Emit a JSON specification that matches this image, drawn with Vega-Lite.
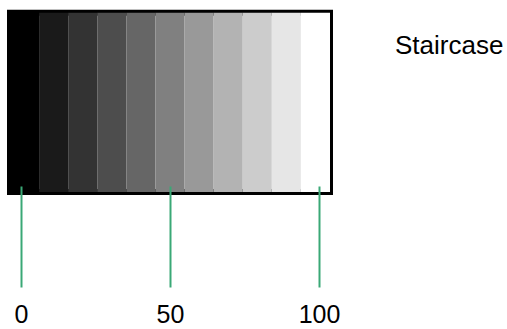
{
  "$schema": "https://vega.github.io/schema/vega-lite/v6.json",
  "width": 320,
  "height": 179.3,
  "autosize": {"type": "none"},
  "padding": {"left": 10, "top": 12.7, "right": 177, "bottom": 137},
  "background": "white",
  "config": {
    "view": {"stroke": "black", "strokeWidth": 6},
    "font": "Liberation Sans"
  },
  "title": {
    "text": "Staircase",
    "orient": "top",
    "anchor": "start",
    "frame": "group",
    "fontSize": 26,
    "fontWeight": "normal",
    "font": "Liberation Sans",
    "color": "black",
    "baseline": "alphabetic",
    "offset": 0,
    "dx": 385,
    "dy": 67.5
  },
  "data": {
    "values": [
      {"level": 0}, {"level": 10}, {"level": 20}, {"level": 30}, {"level": 40},
      {"level": 50}, {"level": 60}, {"level": 70}, {"level": 80}, {"level": 90},
      {"level": 100}
    ]
  },
  "layer": [
    {
      "mark": {"type": "rect"},
      "encoding": {
        "x": {
          "field": "level",
          "type": "ordinal",
          "sort": "ascending",
          "scale": {"paddingInner": 0, "paddingOuter": 0},
          "axis": null
        },
        "y": {"value": 0},
        "y2": {"value": 179.3},
        "color": {
          "field": "level",
          "type": "quantitative",
          "scale": {"domain": [0, 100], "range": ["#000000", "#ffffff"], "interpolate": "rgb"},
          "legend": null
        }
      }
    },
    {
      "mark": {"type": "point", "opacity": 0},
      "encoding": {
        "x": {
          "field": "level",
          "type": "quantitative",
          "scale": {"domain": [-3.69, 103.69], "nice": false, "zero": false},
          "axis": {
            "values": [0, 50, 100],
            "title": null,
            "domain": false,
            "grid": false,
            "offset": -6,
            "tickSize": 101,
            "tickWidth": 2,
            "tickColor": "#3aa876",
            "labelFontSize": 25,
            "labelFont": "Liberation Sans",
            "labelColor": "black",
            "labelPadding": 15,
            "zindex": 1
          }
        },
        "y": {"value": 90}
      }
    }
  ],
  "resolve": {"scale": {"x": "independent"}}
}
